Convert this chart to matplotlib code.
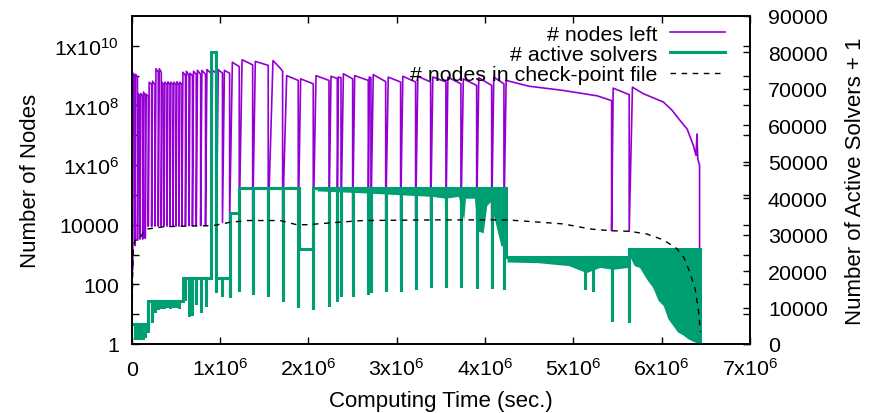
import numpy as np
import matplotlib
matplotlib.use('Agg')
import matplotlib.pyplot as plt
from matplotlib.ticker import FixedLocator, NullFormatter

plt.rcParams['font.family'] = ['Liberation Sans', 'DejaVu Sans']
plt.rcParams['mathtext.default'] = 'regular'

# ---- "# nodes left" : one saw-tooth cycle per restart (times in 1e6 sec.)
restart_t = [0.000, 0.009, 0.037, 0.066, 0.094, 0.125, 0.154, 0.188, 0.226, 0.264,
             0.301, 0.335, 0.366, 0.400, 0.434, 0.468, 0.502, 0.536, 0.570, 0.609,
             0.649, 0.688, 0.731, 0.781, 0.836, 0.898, 0.960, 1.028, 1.109, 1.218,
             1.370, 1.546, 1.709, 1.886, 2.056, 2.234, 2.328, 2.370, 2.502, 2.679,
             2.709, 2.876, 3.045, 3.215, 3.385, 3.558, 3.728, 3.906, 4.076, 4.215,
             5.434, 5.633]
restart_low = [30, 300, 2000, 3000, 3300, 3300, 3500, 8800, 8800, 9000,
               9000, 9000, 9000, 9000, 9000, 9000, 9000, 9000, 9000, 9300,
               9300, 9300, 9300, 9300, 9300, 10000, 11000, 12000, 12000, 13000,
               13800, 13800, 13800, 10000, 11000, 12000, 12500, 12500, 13800, 13800,
               13800, 13800, 13800, 13800, 14500, 14500, 14500, 14500, 14500, 14500,
               6300, 6000]
peak_t = [0.004, 0.015, 0.045, 0.075, 0.103, 0.134, 0.163, 0.198, 0.236, 0.275,
          0.312, 0.345, 0.376, 0.410, 0.444, 0.478, 0.512, 0.546, 0.580, 0.620,
          0.660, 0.700, 0.745, 0.795, 0.852, 0.915, 0.980, 1.050, 1.140, 1.250,
          1.400, 1.600, 1.755, 1.913, 2.087, 2.257, 2.340, 2.397, 2.525, 2.690,
          2.735, 2.905, 3.070, 3.240, 3.410, 3.580, 3.755, 3.930, 4.100, 4.240,
          5.452, 5.670]
peak_nodes = [1.0e9, 1.2e9, 1.1e9, 2.5e8, 2.5e8, 2.8e8, 2.4e8, 6.0e8, 6.5e8, 1.7e9,
              1.7e9, 6.0e8, 6.0e8, 6.2e8, 6.0e8, 6.0e8, 6.2e8, 6.0e8, 1.3e9, 1.4e9,
              1.2e9, 1.4e9, 1.5e9, 1.5e9, 1.6e9, 1.5e9, 1.6e9, 1.5e9, 2.8e9, 3.4e9,
              3.0e9, 3.2e9, 1.0e9, 7.8e8, 1.0e9, 9.5e8, 9.0e8, 1.15e9, 1.0e9, 9.0e8,
              1.08e9, 8.9e8, 9.5e8, 9.5e8, 9.0e8, 8.9e8, 7.8e8, 8.5e8, 8.9e8, 6.9e8,
              3.8e8, 4.1e8]
end_nodes = [9.0e8, 1.0e9, 9.0e8, 2.0e8, 2.0e8, 2.2e8, 2.0e8, 5.0e8, 5.0e8, 1.3e9,
             1.3e9, 5.0e8, 5.0e8, 5.0e8, 5.0e8, 5.0e8, 5.0e8, 5.0e8, 1.0e9, 1.0e9,
             1.0e9, 1.1e9, 1.1e9, 1.1e9, 1.2e9, 1.2e9, 1.2e9, 1.2e9, 2.0e9, 2.3e9,
             2.2e9, 1.4e9, 6.9e8, 5.3e8, 6.9e8, 8.0e8, 8.5e8, 7.8e8, 6.9e8, 8.5e8,
             6.3e8, 6.1e8, 6.1e8, 6.1e8, 6.1e8, 5.3e8, 4.7e8, 4.7e8, 5.3e8, 1.45e8,
             2.3e8, 9.6e5]
# slow decay inside the long cycles
decay_t = [1.68, 4.50, 4.88, 5.27, 5.79, 6.02, 6.12, 6.21, 6.29, 6.36, 6.39, 6.40, 6.41]
decay_nodes = [1.8e9, 4.4e8, 3.2e8, 2.1e8, 2.5e8, 1.3e8, 6.8e7, 3.1e7, 1.6e7, 4.5e6,
               2.1e6, 1.1e7, 1.6e6]
finish_t = 6.43

# ---- "# nodes in check-point file"
ckpt_t = [0.0, 0.005, 0.012, 0.02, 0.04, 0.09, 0.15, 0.36, 0.6, 0.92, 1.11, 1.31,
          1.68, 1.87, 1.99, 2.32, 2.62, 3.45, 4.25, 4.63, 4.89, 5.19, 5.42, 5.64,
          5.83, 6.02, 6.17, 6.25, 6.32, 6.38, 6.42, 6.44]
ckpt_nodes = [1, 10, 300, 2000, 3000, 3300, 7000, 8500, 9000, 9300, 12000, 13800,
              13800, 10000, 10000, 12000, 13800, 14500, 14500, 12100, 10600, 7200,
              6300, 6000, 4900, 3100, 1600, 815, 255, 70, 11.6, 2.5]

# ---- "# active solvers" (+1), step levels
level_t = [0.0, 0.18, 0.58, 0.90, 0.96, 1.11, 1.21, 1.89, 2.05, 4.24, 5.63, 6.43]
level_v = [5500, 11700, 18100, 80000, 18100, 36000, 42700, 26100, 42700, 23800, 26100, 0]
dip_t = [0.037, 0.066, 0.094, 0.125, 0.154,
         0.188, 0.226, 0.264, 0.301, 0.335, 0.366, 0.400, 0.434, 0.468, 0.502, 0.536,
         0.609, 0.649, 0.688, 0.731, 0.781, 0.836,
         0.960, 1.028, 1.109,
         1.218, 1.370, 1.546, 1.709, 1.886, 2.056,
         2.234, 2.328, 2.370, 2.502, 2.679, 2.709, 2.876, 3.045, 3.215, 3.385,
         3.558, 3.728, 3.906, 4.076, 4.215,
         5.132, 5.226, 5.434, 5.633]
dip_v = [1400, 1400, 1500, 1500, 2000,
         3300, 6000, 8800, 9500, 10000, 10000, 10200, 10000, 10200, 10200, 10000,
         12000, 7800, 8000, 11000, 8800, 10500,
         14300, 13300, 12800,
         14600, 13700, 13300, 11900, 10100, 9600,
         10500, 11900, 13300, 13300, 13700, 14200, 14600, 14600, 15100, 15600,
         15600, 15600, 15400, 15400, 15100,
         15100, 14600, 6400, 6000]
# lower edge of the busy (noisy) stretches
busy1_t = [2.10, 2.60, 3.00, 3.40, 3.55, 3.70, 3.74, 3.76, 3.78, 3.88, 3.92, 3.98,
           4.02, 4.06, 4.12, 4.18, 4.23]
busy1_v = [42000, 41500, 41000, 40500, 40000, 40500, 36000, 34000, 40000, 40000,
           31000, 30500, 38000, 39000, 33000, 27000, 26500]
busy2_t = [4.25, 4.60, 4.95, 5.05, 5.15, 5.30, 5.45, 5.62]
busy2_v = [22500, 22300, 21500, 20500, 19600, 21000, 20500, 21000]
busy3_t = [5.64, 5.69, 5.75, 5.83, 5.90, 5.96, 6.02, 6.07, 6.13, 6.18, 6.24, 6.30,
           6.35, 6.43]
busy3_v = [24000, 21500, 21000, 17800, 15500, 12000, 10500, 7000, 5000, 3300, 2500,
           1400, 800, 0]

purple = '#9400D3'
green = '#009E73'

# assemble node curve
node_x, node_y = [], []
for i in range(len(restart_t)):
    nxt = restart_t[i + 1] if i + 1 < len(restart_t) else finish_t
    node_x += [restart_t[i], peak_t[i]]
    node_y += [restart_low[i], peak_nodes[i]]
    for t, v in zip(decay_t, decay_nodes):
        if peak_t[i] < t < nxt:
            node_x.append(t)
            node_y.append(v)
    node_x.append(nxt)
    node_y.append(end_nodes[i])
node_x.append(finish_t)
node_y.append(1)
node_x = np.array(node_x) * 1e6

# assemble solver curve
sol_x, sol_y = [], []
for i in range(len(level_t) - 1):
    a, b, v = level_t[i], level_t[i + 1], level_v[i]
    sol_x.append(a)
    sol_y.append(v)
    for d, dv in zip(dip_t, dip_v):
        if a <= d < b:
            sol_x += [d, d, d]
            sol_y += [v, dv, v]
    sol_x.append(b)
    sol_y.append(v)
sol_x.append(level_t[-1])
sol_y.append(level_v[-1])
sol_x = np.array(sol_x) * 1e6

fig = plt.figure(figsize=(8.72, 4.14), dpi=100)
ax = fig.add_axes([0.151, 0.1667, 0.709, 0.7923])
ax2 = ax.twinx()
ax3 = ax.twinx()

l1, = ax.plot(node_x, node_y, color=purple, lw=1.2, label='# nodes left')
l2, = ax2.plot(sol_x, sol_y, color=green, lw=2.2, label='# active solvers',
               solid_joinstyle='miter')
ax2.fill_between(np.array(busy1_t) * 1e6, busy1_v, 42700, color=green, lw=0)
ax2.fill_between(np.array(busy2_t) * 1e6, busy2_v, 23800, color=green, lw=0)
ax2.fill_between(np.array(busy3_t) * 1e6, busy3_v, 26100, color=green, lw=0)
l3, = ax3.plot(np.array(ckpt_t) * 1e6, ckpt_nodes, color='black', lw=1.0,
               dashes=(4, 4), label='# nodes in check-point file')

fs = 15.4
ax.set_yscale('log')
ax3.set_yscale('log')
for a in (ax, ax3):
    a.set_ylim(1, 1e11)
ax2.set_ylim(0, 90000)
ax.set_xlim(0, 7e6)

ax.xaxis.set_major_locator(FixedLocator([i * 1e6 for i in range(8)]))
ax.set_xticklabels(['0'] + [r'%dx10$^{6}$' % i for i in range(1, 8)], fontsize=fs)
for lbl in ax.get_xticklabels():
    lbl.set_verticalalignment('baseline')
ax.yaxis.set_major_locator(FixedLocator([10.0 ** k for k in range(0, 11, 2)]))
ax.yaxis.set_minor_locator(FixedLocator([10.0 ** k for k in range(1, 11, 2)]))
ax.yaxis.set_minor_formatter(NullFormatter())
ax.set_yticklabels(['1', '100', '10000', r'1x10$^{6}$', r'1x10$^{8}$', r'1x10$^{10}$'],
                   fontsize=fs)
ax.tick_params(axis='both', which='both', direction='in', length=5, width=1,
               top=True, right=True, labelright=False)
ax.tick_params(axis='x', pad=22.5)
ax.tick_params(axis='y', pad=9)

ax2.set_yticks(range(0, 90001, 10000))
ax2.tick_params(axis='y', direction='in', length=5, width=1, labelsize=fs, pad=13)

ax3.axis('off')

for a in (ax, ax2):
    for s in a.spines.values():
        s.set_linewidth(1.2)

ax.set_xlabel('Computing Time (sec.)', fontsize=16, labelpad=8)
ax.set_ylabel('Number of Nodes', fontsize=16, labelpad=10)
ax2.set_ylabel('Number of Active Solvers + 1', fontsize=16, labelpad=12)

ax3.legend(handles=[l1, l2, l3], loc='upper right', bbox_to_anchor=(0.98, 1.012),
           frameon=False, markerfirst=False, fontsize=fs, handlelength=2.55,
           handletextpad=0.6, labelspacing=0.05, borderaxespad=0.2)

fig.savefig('out.png', dpi=100)
